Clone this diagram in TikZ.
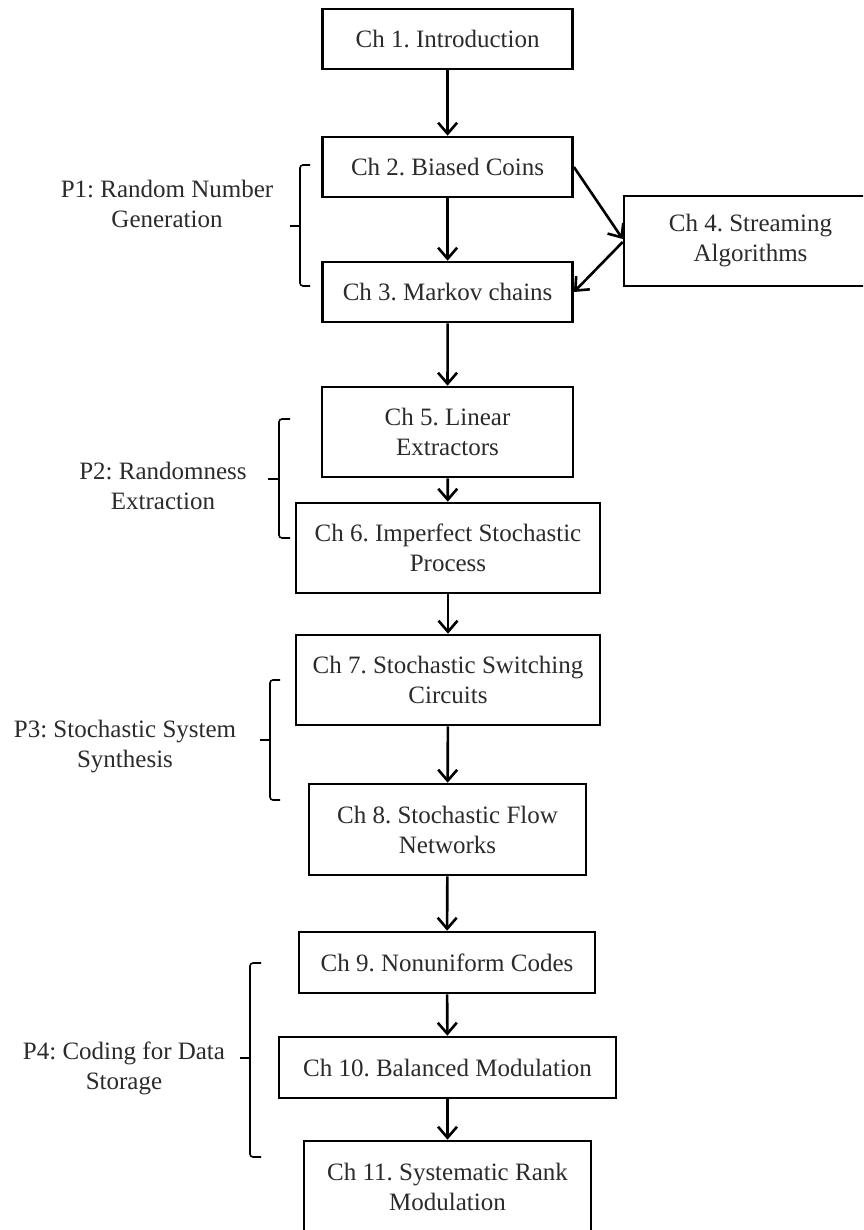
\documentclass[tikz,border=0pt]{standalone}
\usepackage{fontspec}
\setmainfont{Liberation Serif}
\usetikzlibrary{arrows.meta}
\definecolor{txt}{HTML}{2B2B2B}
\begin{document}
\frenchspacing
\begin{tikzpicture}[x=1pt,y=-1pt,
  box/.style={draw=black, line width=2.6pt, text=txt, align=center, inner sep=0pt, font=\fontsize{25}{30}\selectfont\frenchspacing},
  part/.style={text=txt, align=center, inner sep=0pt, font=\fontsize{25}{30}\selectfont\frenchspacing},
  arr/.style={line width=2.6pt, -{Straight Barb[length=11pt,width=19pt]}},
  brace/.style={line width=1.6pt, rounded corners=3pt}]
\useasboundingbox (0,0) rectangle (863,1230);
\fill[white] (0,0) rectangle (863,1230);
\clip (0,0) rectangle (863,1230);

% chapter boxes
\node[box, minimum width=250pt, minimum height=60pt] (c1) at (447.6,39) {Ch 1. Introduction};
\node[box, minimum width=250pt, minimum height=60pt] (c2) at (447.6,167) {Ch 2. Biased Coins};
\node[box, minimum width=250pt, minimum height=60pt] (c3) at (447.6,292) {Ch 3. Markov chains};
\node[box, minimum width=253pt, minimum height=90pt] (c4) at (750.5,241) {Ch 4. Streaming\\Algorithms};
\node[box, minimum width=251pt, minimum height=90pt] (c5) at (447.5,432) {Ch 5. Linear\\Extractors};
\node[box, minimum width=304pt, minimum height=90pt] (c6) at (448,548) {Ch 6. Imperfect Stochastic\\Process};
\node[box, minimum width=304pt, minimum height=90pt] (c7) at (448,680) {Ch 7. Stochastic Switching\\Circuits};
\node[box, minimum width=277pt, minimum height=91pt] (c8) at (447.5,829.5) {Ch 8. Stochastic Flow\\Networks};
\node[box, minimum width=296pt, minimum height=61pt] (c9) at (447,962.5) {Ch 9. Nonuniform Codes};
\node[box, minimum width=337pt, minimum height=61pt] (c10) at (447.5,1067.5) {Ch 10. Balanced Modulation};
\node[box, minimum width=287pt, minimum height=92pt] (c11) at (447.5,1187) {Ch 11. Systematic Rank\\Modulation};

% connectors
\draw[arr] (c1) -- (c2);
\draw[arr] (c2) -- (c3);
\draw[arr] (c2.east) -- ([yshift=2pt]c4.west);
\draw[arr] ([yshift=-1pt]c4.west) -- (c3.east);
\draw[arr] (c3) -- (c5);
\draw[arr] (c5) -- (c6);
\draw[arr] (c6) -- (c7);
\draw[arr] (c7) -- (c8);
\draw[arr] (c8) -- (c9);
\draw[arr] (c9) -- (c10);
\draw[arr] (c10) -- (c11);

% part labels
\node[part] (p1) at (167,204) {P1: Random Number\\Generation};
\node[part] (p2) at (163,486) {P2: Randomness\\Extraction};
\node[part] (p3) at (125,747) {P3: Stochastic System\\Synthesis};
\node[part] (p4) at (124,1068) {P4: Coding for Data\\Storage};

% braces
\draw[brace] (310,165) -- (300,165) -- (300,286) -- (310,286);
\draw[brace] (300,226) -- (290,226);
\draw[brace] (290,419) -- (279,419) -- (279,538) -- (290,538);
\draw[brace] (279,479) -- (268,479);
\draw[brace] (280,680) -- (270,680) -- (270,800) -- (280,800);
\draw[brace] (270,740) -- (260,740);
\draw[brace] (261,963) -- (250,963) -- (250,1157) -- (261,1157);
\draw[brace] (250,1058) -- (240,1058);
\end{tikzpicture}
\end{document}
